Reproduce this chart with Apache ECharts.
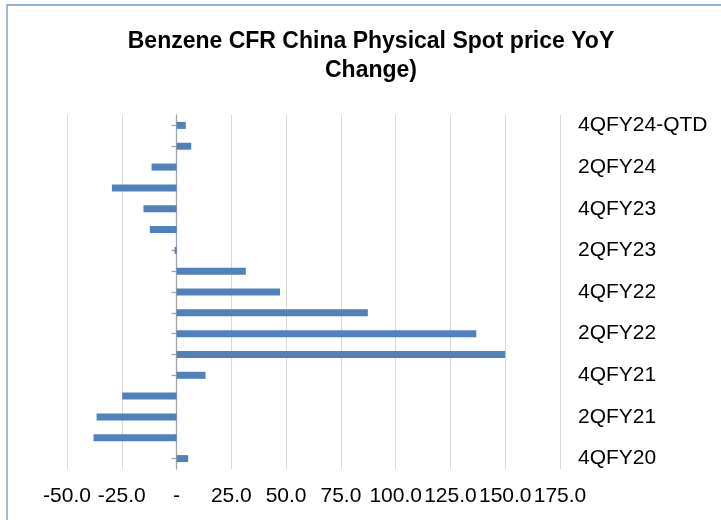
<!DOCTYPE html>
<html>
<head>
<meta charset="utf-8">
<script src="https://cdn.jsdelivr.net/npm/echarts@6/dist/echarts.min.js"></script>
<style>
  html, body { margin: 0; padding: 0; background: #fff; }
  #bar-chart { width: 721px; height: 520px; }
</style>
</head>
<body>
<div id="bar-chart"></div>
<script>
// ==============================================================
// data
// ==============================================================
var categories = ['4QFY20', '1QFY21', '2QFY21', '3QFY21', '4QFY21', '1QFY22', '2QFY22', '3QFY22',
    '4QFY22', '1QFY23', '2QFY23', '3QFY23', '4QFY23', '1QFY24', '2QFY24', '3QFY24', '4QFY24-QTD'];
var yoyChange = [5.3, -37.9, -36.5, -24.8, 13.2, 150.0, 136.8, 87.3,
    47.2, 31.6, -0.9, -12.2, -15.1, -29.5, -11.4, 6.7, 4.2];
var xTicks = [-50, 175, 25]; // min, max, step

var font = "'Liberation Sans', Arial, sans-serif";
var myChart = echarts.init(document.getElementById('bar-chart'));

option = {
    backgroundColor: '#fff',
    animation: false,
    title: {
        text: 'Benzene CFR China Physical Spot price YoY\nChange)',
        left: 366,
        textAlign: 'center',
        top: 22,
        textStyle: {
            fontFamily: font,
            fontSize: 23,
            fontWeight: 'bold',
            color: '#000',
            lineHeight: 29
        }
    },
    graphic: [
        {
            type: 'rect',
            shape: { x: 7, y: 5, width: 800, height: 600 },
            style: { fill: 'none', stroke: '#6d97cc', lineWidth: 1.3 }
        }
    ],
    grid: {
        left: 67,
        right: 161,
        top: 115,
        bottom: 51,
        containLabel: false,
        outerBoundsMode: 'none'
    },
    xAxis: {
        type: 'value',
        min: xTicks[0],
        max: xTicks[1],
        interval: xTicks[2],
        axisLine: { show: false },
        axisTick: { show: false },
        splitLine: { lineStyle: { color: '#d9d9d9', width: 1 } },
        axisLabel: {
            fontFamily: font,
            fontSize: 21,
            color: '#000',
            margin: 17,
            formatter: function (v) { return v === 0 ? '-' : v.toFixed(1); }
        }
    },
    yAxis: [
        {
            type: 'category',
            data: categories,
            position: 'right',
            axisLine: { show: false, onZero: false },
            axisTick: { show: false },
            axisLabel: {
                interval: 1,
                fontFamily: font,
                fontSize: 21,
                color: '#000',
                margin: 18
            }
        },
        {
            type: 'category',
            data: categories,
            position: 'left',
            axisLine: { show: true, onZero: true, lineStyle: { color: '#a6a6a6', width: 1.3 } },
            axisTick: { show: true, interval: 0, alignWithLabel: true, length: 5, lineStyle: { color: '#a6a6a6', width: 1.3 } },
            axisLabel: { show: false }
        }
    ],
    series: [
        {
            name: 'YoY Change',
            type: 'bar',
            yAxisIndex: 0,
            barWidth: 7,
            itemStyle: { color: '#4f81bd' },
            data: yoyChange
        }
    ]
};

myChart.setOption(option, true);
</script>
</body>
</html>
